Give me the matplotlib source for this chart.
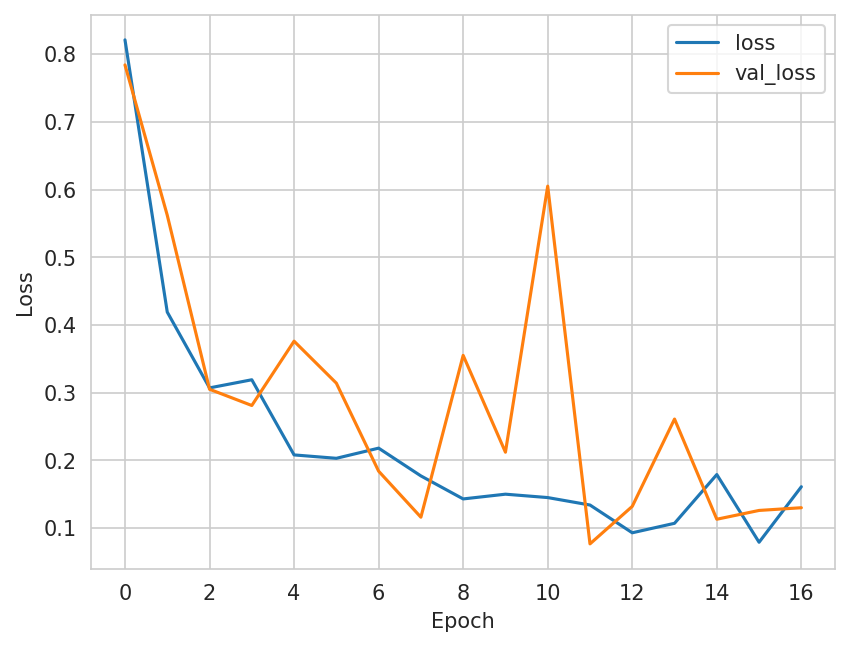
import matplotlib
matplotlib.use("Agg")
import matplotlib.pyplot as plt
import seaborn as sns

epochs = list(range(17))
loss = [0.821, 0.419, 0.307, 0.319, 0.208, 0.203, 0.218, 0.177, 0.143, 0.150,
        0.145, 0.134, 0.093, 0.107, 0.179, 0.079, 0.161]
val_loss = [0.784, 0.562, 0.305, 0.281, 0.376, 0.314, 0.184, 0.116, 0.355, 0.212,
            0.605, 0.0766, 0.132, 0.261, 0.113, 0.126, 0.130]

sns.set_style("whitegrid")
fig, ax = plt.subplots(figsize=(6.4, 4.8))
ax.plot(epochs, loss, label="loss")
ax.plot(epochs, val_loss, label="val_loss")
ax.set_xlabel("Epoch")
ax.set_ylabel("Loss")
ax.legend()
fig.savefig("out.png", dpi=150, bbox_inches="tight")
